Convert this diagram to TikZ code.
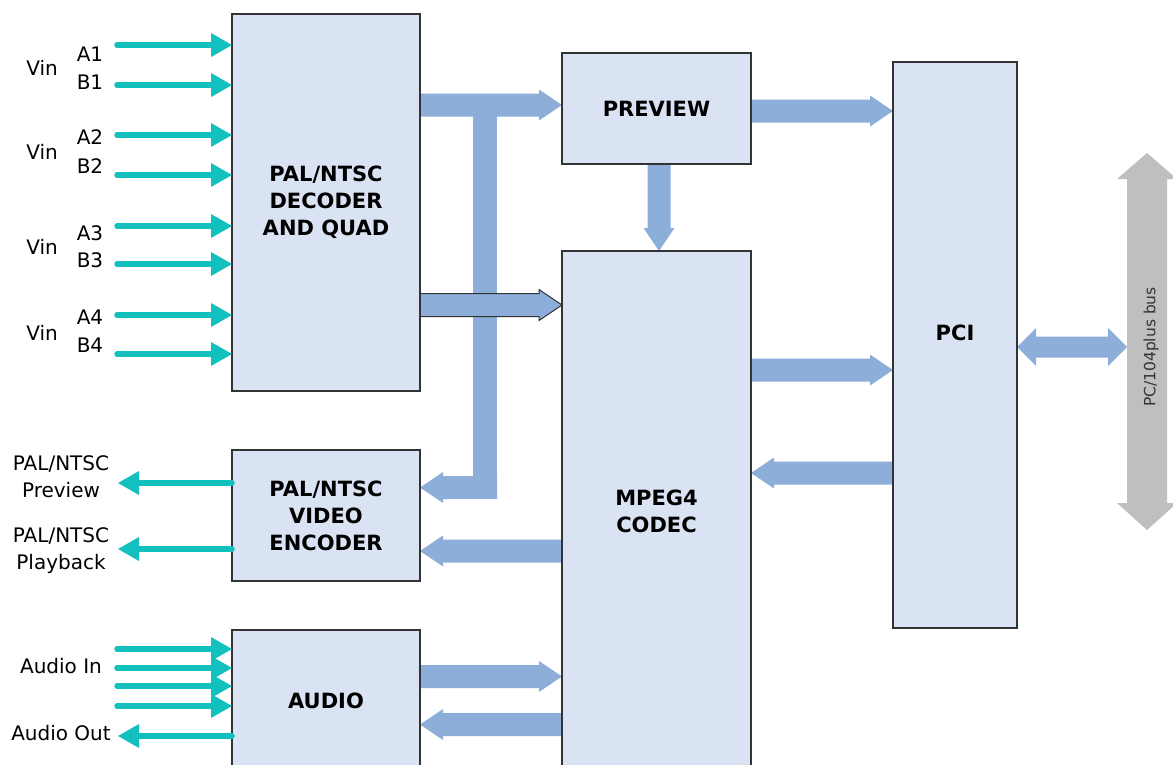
\documentclass[tikz,border=0pt]{standalone}
\usepackage{fontspec}
\setmainfont{DejaVu Sans}
\usetikzlibrary{arrows.meta,calc,backgrounds}
\definecolor{boxfill}{RGB}{218,227,243}
\definecolor{blkblue}{RGB}{141,174,216}
\definecolor{cyanline}{RGB}{18,192,190}
\definecolor{busgray}{RGB}{191,191,191}
\newcommand\blkarrow[3][]{%
  \coordinate (bac) at ($(#3)!23pt!(#2)$);
  \path[fill=blkblue,#1] ($(#2)!11.5pt!90:(#3)$) -- ($(bac)!11.5pt!90:(#3)$) -- ($(bac)!15.5pt!90:(#3)$) -- (#3) -- ($(bac)!15.5pt!-90:(#3)$) -- ($(bac)!11.5pt!-90:(#3)$) -- ($(#2)!11.5pt!-90:(#3)$) -- cycle;}
\begin{document}
\begin{tikzpicture}[x=1pt,y=-1pt,
  box/.style={draw=black!80, line width=1.2pt, fill=boxfill, inner sep=0pt, outer sep=0pt, align=center, font=\bfseries\fontsize{21}{27}\selectfont},
  btext/.style={inner sep=0pt, align=center, font=\bfseries\fontsize{21}{27}\selectfont},
  lbl/.style={inner sep=0pt, anchor=base, font=\fontsize{20}{27}\selectfont},
  lbltwo/.style={inner sep=0pt, anchor=north, align=center, font=\fontsize{20}{27}\selectfont},
  cyarr/.style={draw=cyanline, line width=5.5pt, line cap=round, -{Triangle[length=21pt,width=24pt,line width=0pt]}}]
\useasboundingbox (0,0) rectangle (1173,764);
\clip (0,0) rectangle (1173,764);

% boxes
\node[box, minimum width=188pt, minimum height=377pt] (dec) at (326,202.5) {PAL/NTSC\\DECODER\\AND QUAD};
\node[box, minimum width=189pt, minimum height=111pt] (prev) at (656.5,108.5) {PREVIEW};
\node[box, minimum width=189pt, minimum height=520pt] (mpeg) at (656.5,511) {MPEG4\\CODEC};
\node[box, minimum width=124pt, minimum height=566pt] (pci) at (955,345) {};
\node[btext] (pcit) at (955,333) {PCI};
\node[box, minimum width=188pt, minimum height=131pt] (enc) at (326,515.5) {PAL/NTSC\\VIDEO\\ENCODER};
\node[box, minimum width=188pt, minimum height=142pt] (aud) at (326,701) {AUDIO};

% labels
\node[lbl] (vin1) at (42,75.3) {Vin};
\node[lbl] (vin2) at (42,159.3) {Vin};
\node[lbl] (vin3) at (42,254.3) {Vin};
\node[lbl] (vin4) at (42,340.3) {Vin};
\node[lbl] (la1) at (90,61.3) {A1};
\node[lbl] (lb1) at (90,89.3) {B1};
\node[lbl] (la2) at (90,144.3) {A2};
\node[lbl] (lb2) at (90,173.3) {B2};
\node[lbl] (la3) at (90,240.3) {A3};
\node[lbl] (lb3) at (90,267.3) {B3};
\node[lbl] (la4) at (90,324.8) {A4};
\node[lbl] (lb4) at (90,352.3) {B4};
\node[lbltwo] (lprev) at (61,455.6) {PAL/NTSC\\Preview};
\node[lbltwo] (lplay) at (61,527.1) {PAL/NTSC\\Playback};
\node[lbl] (lain) at (61,673.3) {Audio In};
\node[lbl] (laout) at (61,740.3) {Audio Out};

% input coordinates
\coordinate (a1) at (117,45);
\coordinate (b1) at (117,85);
\coordinate (a2) at (117,135);
\coordinate (b2) at (117,175);
\coordinate (a3) at (117,226);
\coordinate (b3) at (117,264);
\coordinate (a4) at (117,315);
\coordinate (b4) at (117,354);
\coordinate (ai1) at (117,649);
\coordinate (ai2) at (117,668);
\coordinate (ai3) at (117,686);
\coordinate (ai4) at (117,706);
\coordinate (op1) at (118,483);
\coordinate (op2) at (118,549);
\coordinate (aout) at (118,736);

\foreach \c in {a1,b1,a2,b2,a3,b3,a4,b4}
  \draw[cyarr] (\c) -- (dec.west |- \c);
\foreach \c in {ai1,ai2,ai3,ai4}
  \draw[cyarr] (\c) -- (aud.west |- \c);
\draw[cyarr] (enc.west |- op1) -- (op1);
\draw[cyarr] (enc.west |- op2) -- (op2);
\draw[cyarr] (aud.west |- aout) -- (aout);

\begin{pgfonlayer}{background}
  % decoder -> preview, with T branch to encoder
  \coordinate (c1s) at (dec.east |- 0,105);
  \coordinate (c1e) at (prev.west |- 0,105);
  \blkarrow{c1s}{c1e}
  \fill[blkblue] (473,93.5) rectangle (497,499);
  \coordinate (c2s) at (497,487.5);
  \coordinate (c2e) at (enc.east |- c2s);
  \blkarrow{c2s}{c2e}
  % decoder -> mpeg (outlined)
  \coordinate (c3s) at (dec.east |- 0,305);
  \coordinate (c3e) at (mpeg.west |- 0,305);
  \blkarrow[draw=black!80, line width=1pt]{c3s}{c3e}
  % preview -> mpeg
  \coordinate (c4s) at (prev.south -| 659,0);
  \coordinate (c4e) at (mpeg.north -| 659,0);
  \blkarrow{c4s}{c4e}
  % preview -> pci
  \coordinate (c5s) at (prev.east |- 0,111);
  \coordinate (c5e) at (pci.west |- 0,111);
  \blkarrow{c5s}{c5e}
  % mpeg -> pci
  \coordinate (c6s) at (mpeg.east |- 0,370);
  \coordinate (c6e) at (pci.west |- 0,370);
  \blkarrow{c6s}{c6e}
  % pci -> mpeg
  \coordinate (c7s) at (pci.west |- 0,473);
  \coordinate (c7e) at (mpeg.east |- 0,473);
  \blkarrow{c7s}{c7e}
  % mpeg -> encoder
  \coordinate (c8s) at (mpeg.west |- 0,551);
  \coordinate (c8e) at (enc.east |- 0,551);
  \blkarrow{c8s}{c8e}
  % audio -> mpeg
  \coordinate (c9s) at (aud.east |- 0,676.5);
  \coordinate (c9e) at (mpeg.west |- 0,676.5);
  \blkarrow{c9s}{c9e}
  % mpeg -> audio
  \coordinate (c10s) at (mpeg.west |- 0,724.5);
  \coordinate (c10e) at (aud.east |- 0,724.5);
  \blkarrow{c10s}{c10e}
  % pci <-> bus
  \coordinate (pb1) at (pci.east |- 0,347);
  \coordinate (pb2) at (1127,347);
  \fill[blkblue] (pb1) -- ++(19,-19) -- ++(0,8.5) -- ($(pb2)+(-19,-10.5)$) -- ++(0,-8.5) -- (pb2) -- ++(-19,19) -- ++(0,-8.5) -- ($(pb1)+(19,10.5)$) -- ++(0,8.5) -- cycle;
\end{pgfonlayer}

% PC/104plus bus
\fill[busgray] (1147,153) -- (1177,179) -- (1167,179) -- (1167,503) -- (1177,503) -- (1147,530) -- (1117,503) -- (1127,503) -- (1127,179) -- (1117,179) -- cycle;
\node[rotate=90, inner sep=0pt, text=black!80, font=\fontsize{15.5}{18}\selectfont] (busl) at (1151,347) {PC/104plus bus};
\end{tikzpicture}
\end{document}
